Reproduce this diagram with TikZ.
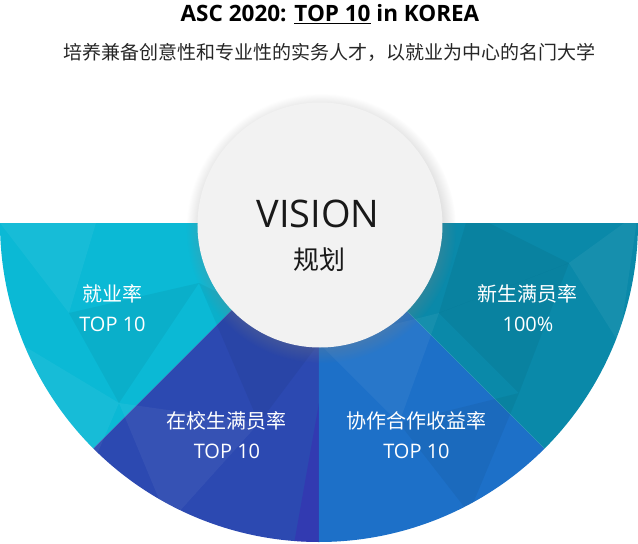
\documentclass[tikz,border=0pt]{standalone}
\usepackage{fontspec}
\setmainfont{Open Sans}
\newfontfamily\cjk{Noto Sans CJK SC}
\usetikzlibrary{shadows,positioning}
\usepackage{xcolor}
\definecolor{skyA}{HTML}{0BB9D5}
\definecolor{navyA}{HTML}{2C49B1}
\definecolor{blueA}{HTML}{1D70C8}
\definecolor{tealA}{HTML}{0A89A9}
\definecolor{hubgray}{HTML}{F2F2F2}

\begin{document}
\begin{tikzpicture}[
				x=1pt,y=1pt,
				hub/.style={circle,fill=hubgray,minimum size=245pt,inner sep=0pt,
					circular drop shadow={shadow xshift=1pt,shadow yshift=-3pt,opacity=0.35}},
				lbl/.style={text=white,align=center,font=\fontsize{20}{30}\selectfont},
				glow/.style={fill=white,opacity=0.05},
				dark/.style={fill=black,opacity=0.05}
				]
				
				\useasboundingbox (-319,223) rectangle (319,-321);
				
				% Titolo
				\node[font=\bfseries\fontsize{22.5}{26}\selectfont] (title) at (11,209) {ASC 2020: \underline{TOP 10} in KOREA};
				\node[font=\cjk\fontsize{19}{22}\selectfont,text=black!85] (sub) at (11,171) {培养兼备创意性和专业性的实务人才，以就业为中心的名门大学};
				
				% Settori
				\foreach \a/\b/\col in {180/225/skyA,225/270/navyA,270/315/blueA,315/360/tealA}{
					\begin{scope}
						\clip (0,0) -- (\a:319) arc[start angle=\a,end angle=\b,radius=319] -- cycle;
						\fill[\col] (-320,-330) rectangle (320,10);
						\fill[glow] (-319,0) -- (-220,10) -- (-250,-90) -- cycle;
						\fill[dark] (-250,-90) -- (-120,-60) -- (-200,-180) -- cycle;
						\fill[glow] (-300,-120) -- (-200,-180) -- (-230,-250) -- cycle;
						\fill[dark] (-120,-60) -- (0,-120) -- (-60,-200) -- cycle;
						\fill[glow] (-200,-180) -- (-60,-200) -- (-150,-300) -- cycle;
						\fill[fill=violet!60!blue,opacity=0.2] (0,-180) -- (-25,-321) -- (0,-321) -- cycle;
						\fill[glow] (0,-120) -- (120,-90) -- (80,-200) -- cycle;
						\fill[dark] (80,-200) -- (200,-170) -- (150,-290) -- cycle;
						\fill[dark] (120,-90) -- (250,-40) -- (200,-170) -- cycle;
						\fill[glow] (250,-40) -- (319,10) -- (300,-120) -- cycle;
						\fill[dark] (150,10) -- (250,-40) -- (120,-90) -- cycle;
					\end{scope}
				}
				
				% Cerchio centrale
				\node[hub] (vision) at (1,-2) {};
				\node[font=\fontsize{38}{40}\selectfont,text=black!90] (vis) at (-1,9) {VISION};
				\node[font=\cjk\fontsize{26}{28}\selectfont,text=black!90] (plan) at (1,-37) {规划};
				
				% Etichette
				\node[lbl] (emp) at (-206.5,-85) {{\cjk 就业率}\\TOP 10};
				\node[lbl] (fresh) at (209,-85) {{\cjk 新生满员率}\\100\%};
				\node[lbl] (campus) at (-92,-212) {{\cjk 在校生满员率}\\TOP 10};
				\node[lbl] (coop) at (97.5,-212) {{\cjk 协作合作收益率}\\TOP 10};
				
			\end{tikzpicture}
\end{document}
